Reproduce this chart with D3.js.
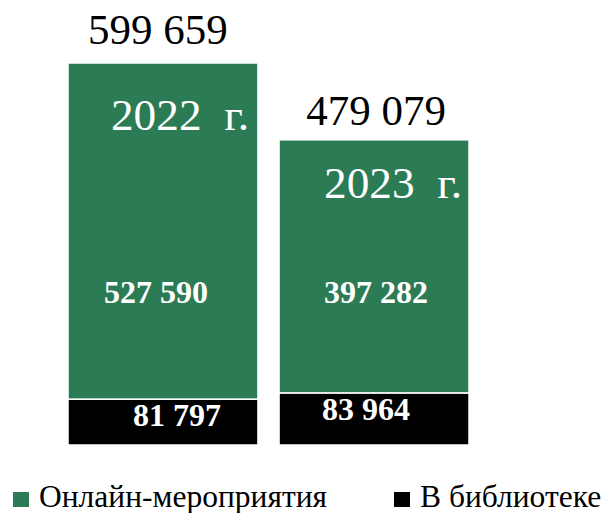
<!DOCTYPE html>
<html>
<head>
<meta charset="utf-8">
<script src="https://cdn.jsdelivr.net/npm/d3@7/dist/d3.min.js"></script>
<style>
  body { margin: 0; background: #fff; }
</style>
</head>
<body>
<div id="chart"></div>
<script>
var years = ["2022", "2023"];
var yearLabels = ["2022 г.", "2023 г."];
var online = [527590, 397282];
var library = [81797, 83964];
var totals = [599659, 479079];
var legendNames = ["Онлайн-мероприятия", "В библиотеке"];

var width = 611, height = 513;
var green = "#2b7b55";
var serif = "'Liberation Serif', 'Times New Roman', serif";

var svg = d3.select("#chart").append("svg")
  .attr("width", width)
  .attr("height", height)
  .style("font-family", serif);

var x = d3.scaleBand()
  .domain(years)
  .range([68, 469])
  .paddingInner(0.1);

var y = d3.scaleLinear()
  .domain([0, d3.max(totals)])
  .range([445, 63]);

var fmt = function(v) { return d3.format(",")(v).replace(/,/g, " "); };

var rows = years.map(function(yr, i) {
  return { year: yr, label: yearLabels[i], online: online[i], library: library[i], total: totals[i] };
});

var g = svg.append("g");

// black (library) part at the bottom, green on top up to the total
g.selectAll(".lib")
  .data(rows)
  .enter()
  .append("rect")
  .attr("class", "lib")
  .attr("x", function(d) { return x(d.year); })
  .attr("width", x.bandwidth())
  .attr("y", function(d) { return y(d.total - d.online); })
  .attr("height", function(d) { return y(0) - y(d.total - d.online); })
  .attr("fill", "#000")
  .attr("stroke", "#fff")
  .attr("stroke-width", 1.5);

g.selectAll(".onl")
  .data(rows)
  .enter()
  .append("rect")
  .attr("class", "onl")
  .attr("x", function(d) { return x(d.year); })
  .attr("width", x.bandwidth())
  .attr("y", function(d) { return y(d.total); })
  .attr("height", function(d) { return y(d.total - d.online) - y(d.total); })
  .attr("fill", green)
  .attr("stroke", "#fff")
  .attr("stroke-width", 1.5);

var cx = function(d) { return x(d.year) + x.bandwidth() / 2; };

// totals above bars
g.selectAll(".tot")
  .data(rows)
  .enter()
  .append("text")
  .attr("x", function(d, i) { return cx(d) + (i === 0 ? -5 : 2); })
  .attr("y", function(d, i) { return y(d.total) + (i === 0 ? -19 : -15); })
  .attr("text-anchor", "middle")
  .attr("font-size", 43)
  .attr("fill", "#000")
  .text(function(d) { return fmt(d.total); });

// year titles inside green
g.selectAll(".yr")
  .data(rows)
  .enter()
  .append("text")
  .attr("x", function(d, i) { return cx(d) + (i === 0 ? 17 : 19); })
  .attr("y", function(d, i) { return y(d.total) + (i === 0 ? 67 : 58); })
  .attr("text-anchor", "middle")
  .attr("font-size", 45)
  .attr("textLength", 138)
  .attr("lengthAdjust", "spacingAndGlyphs")
  .attr("fill", "#fff")
  .text(function(d) { return d.label.replace(" ", "\u00a0\u00a0"); });

// online values
g.selectAll(".ov")
  .data(rows)
  .enter()
  .append("text")
  .attr("x", function(d, i) { return cx(d) + (i === 0 ? -7 : 2); })
  .attr("y", 303)
  .attr("text-anchor", "middle")
  .attr("font-size", 32)
  .attr("font-weight", "bold")
  .attr("fill", "#fff")
  .text(function(d) { return fmt(d.online); });

// library values
g.selectAll(".lv")
  .data(rows)
  .enter()
  .append("text")
  .attr("x", function(d, i) { return cx(d) + (i === 0 ? 14 : -8); })
  .attr("y", function(d) { return y(d.total - d.online) + 27; })
  .attr("text-anchor", "middle")
  .attr("font-size", 32)
  .attr("font-weight", "bold")
  .attr("fill", "#fff")
  .text(function(d) { return fmt(d.library); });

// legend
var legend = svg.append("g");
var legX = [13, 394];
var legColors = [green, "#000"];
legendNames.forEach(function(name, i) {
  legend.append("rect")
    .attr("x", legX[i])
    .attr("y", 492)
    .attr("width", 16)
    .attr("height", 15)
    .attr("fill", legColors[i]);
  legend.append("text")
    .attr("x", legX[i] + 26)
    .attr("y", 507)
    .attr("font-size", 31.5)
    .attr("fill", "#000")
    .text(name);
});
</script>
</body>
</html>
